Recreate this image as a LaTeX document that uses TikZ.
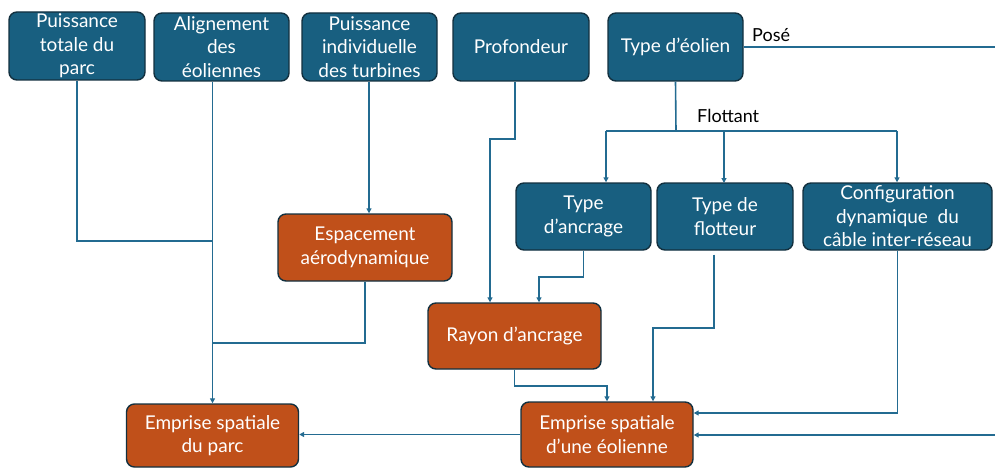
\documentclass[tikz,border=0pt]{standalone}
\usepackage{fontspec}
\setmainfont{Lato}
\usetikzlibrary{arrows.meta,calc}
\definecolor{boxblue}{HTML}{185F80}
\definecolor{boxorange}{HTML}{C0501A}
\definecolor{boxedge}{HTML}{12303F}
\definecolor{linec}{HTML}{236B91}
\tikzset{
  bx/.style={draw=boxedge, line width=1.4pt, rounded corners=8pt, text=white, align=center,
    font=\fontsize{19}{23.5}\selectfont, inner sep=0pt},
  bbox/.style={bx, fill=boxblue},
  obox/.style={bx, fill=boxorange},
  ln/.style={draw=linec, line width=1.6pt},
  arr/.style={ln, -{Triangle[length=5pt,width=5pt]}},
  lbl/.style={font=\fontsize{18}{20}\selectfont, text=black, inner sep=0pt}
}
\begin{document}
\begin{tikzpicture}[x=1pt,y=-1pt]
\useasboundingbox (0,0) rectangle (995,468);
% top row
\node[bbox, minimum width=136pt, minimum height=68pt] (P1) at (77,46) {Puissance\\totale du\\parc};
\node[bbox, minimum width=135pt, minimum height=68pt] (P2) at (221.5,47) {Alignement\\des\\éoliennes};
\node[bbox, minimum width=135pt, minimum height=68pt] (P3) at (369.5,47) {Puissance\\individuelle\\des turbines};
\node[bbox, minimum width=136pt, minimum height=68pt] (P4) at (521,47) {Profondeur};
\node[bbox, minimum width=135pt, minimum height=68pt] (P5) at (675.5,47) {Type d’éolien};
% second row
\node[bbox, minimum width=135pt, minimum height=67pt] (TA) at (583.5,216.5) {Type\\d’ancrage};
\node[bbox, minimum width=136pt, minimum height=67pt] (TF) at (725,216.5) {Type de\\flotteur};
\node[bbox, minimum width=189pt, minimum height=67pt] (CF) at (897.5,216.5) {Configuration\\dynamique\ \ du\\câble inter-réseau};
% orange
\node[obox, minimum width=174pt, minimum height=67pt] (ES) at (365,247.5) {Espacement\\aérodynamique};
\node[obox, minimum width=173pt, minimum height=66pt] (RA) at (514.5,336) {Rayon d’ancrage};
\node[obox, minimum width=172pt, minimum height=63pt] (EP) at (212.5,435.5) {Emprise spatiale\\du parc};
\node[obox, minimum width=172pt, minimum height=65pt] (EE) at (607,434.5) {Emprise spatiale\\d’une éolienne};
% coordinates
\coordinate (j1) at (212.5,241);
\coordinate (j2) at (212.5,343);
\coordinate (f0) at (676,131);
\coordinate (fL) at (606,131);
\coordinate (fR) at (897,131);
\coordinate (poseA) at (995,47);
\coordinate (poseB) at (995,435);
% connectors
\draw[ln] (P1.south) |- (j1);
\draw[arr] (P2.south -| EP.north) -- (EP.north);
\draw[ln] (ES.south) |- (j2);
\draw[arr] ([xshift=-0.5pt]P3.south) -- ([xshift=-0.5pt]P3.south |- ES.north);
\draw[arr] ([xshift=-6pt]P4.south) -- ++(0,57) -| ([xshift=-24.5pt]RA.north);
\draw[arr] (TA.south) -- ++(0,26) -| ([xshift=24.5pt]RA.north);
\draw[arr] (RA.south) -- ++(0,16) -| (EE.north);
\draw[arr] ([xshift=-11pt,yshift=-4pt]TF.south) -- (714,328) -| ([xshift=46pt]EE.north);
\draw[arr] (CF.south) |- ([yshift=21.5pt]EE.east);
\draw[ln] (P5.east) -- (poseA);
\draw[arr] (poseB) -- (EE.east |- poseB);
\draw[arr] (EE.west) -- (EE.west -| EP.east);
\draw[ln] (P5.south) -- (f0);
\draw[ln] (fL) -- (fR);
\draw[arr] (fL) -- (fL |- TA.north);
\draw[arr] (724,131) -- (724,183);
\draw[arr] (fR) -- (fR |- CF.north);
% labels
\node[lbl, anchor=base west] (lpose) at (752,42) {Posé};
\node[lbl, anchor=base west] (lflot) at (697,122) {Flottant};
\end{tikzpicture}
\end{document}
